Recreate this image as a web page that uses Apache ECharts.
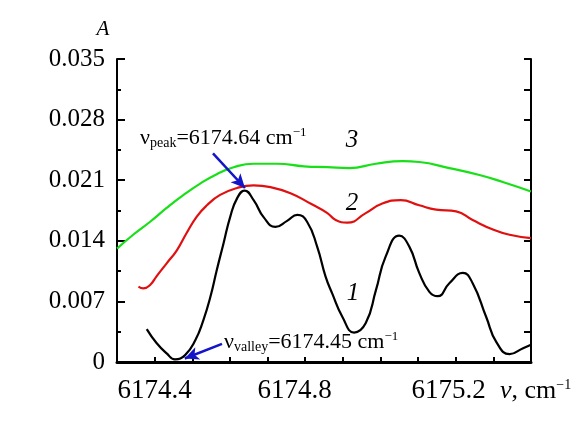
<!DOCTYPE html>
<html>
<head>
<meta charset="utf-8">
<script src="https://cdn.jsdelivr.net/npm/echarts@6/dist/echarts.min.js"></script>
<style>
  html, body { margin: 0; padding: 0; background: #fff; }
  #chart { width: 578px; height: 421px; }
</style>
</head>
<body>
<div id="chart"></div>
<script>
// curve 1 (black)
const nu1 = [6174.379, 6174.405, 6174.432, 6174.454, 6174.481, 6174.508, 6174.530, 6174.548, 6174.565,
  6174.583, 6174.601, 6174.619, 6174.639, 6174.663, 6174.690, 6174.721, 6174.752, 6174.779, 6174.805,
  6174.832, 6174.854, 6174.872, 6174.899, 6174.930, 6174.961, 6174.988, 6175.014, 6175.050, 6175.077,
  6175.103, 6175.130, 6175.152, 6175.183, 6175.219, 6175.245, 6175.281, 6175.308, 6175.343, 6175.379, 6175.400]
const a1 = [0.0038, 0.0022, 0.0010, 0.0003, 0.0008, 0.0025, 0.0049, 0.0075, 0.0106,
  0.0137, 0.0168, 0.0189, 0.0198, 0.0187, 0.0167, 0.0156, 0.0163, 0.0170, 0.0162,
  0.0133, 0.0099, 0.0079, 0.0052, 0.0034, 0.0045, 0.0083, 0.0122, 0.0146, 0.0133,
  0.0103, 0.0081, 0.0076, 0.0091, 0.0103, 0.0091, 0.0052, 0.0023, 0.0009, 0.0016, 0.0020]

// curve 2 (red)
const nu2 = [6174.357, 6174.370, 6174.388, 6174.405, 6174.432, 6174.459, 6174.485, 6174.512, 6174.539,
  6174.574, 6174.619, 6174.663, 6174.708, 6174.761, 6174.814, 6174.859, 6174.881, 6174.912, 6174.961,
  6175.005, 6175.054, 6175.103, 6175.148, 6175.201, 6175.245, 6175.299, 6175.343, 6175.400]
const a2 = [0.0087, 0.0085, 0.0089, 0.0099, 0.0114, 0.0129, 0.0149, 0.0168, 0.0181,
  0.0193, 0.0201, 0.0204, 0.0202, 0.0195, 0.0183, 0.0172, 0.0164, 0.0161, 0.0172,
  0.0183, 0.0187, 0.0181, 0.0176, 0.0174, 0.0164, 0.0153, 0.0147, 0.0143]

// curve 3 (green)
const nu3 = [6174.300, 6174.343, 6174.388, 6174.432, 6174.477, 6174.521, 6174.565, 6174.610, 6174.663,
  6174.725, 6174.797, 6174.859, 6174.917, 6174.988, 6175.059, 6175.103, 6175.183, 6175.263, 6175.325, 6175.400]
const a3 = [0.0131, 0.0147, 0.0162, 0.0178, 0.0193, 0.0206, 0.0217, 0.0225, 0.0229,
  0.0229, 0.0226, 0.0225, 0.0224, 0.0229, 0.0232, 0.0231, 0.0224, 0.0216, 0.0208, 0.0197]

const xLabels = [6174.4, 6174.8, 6175.2]
const peakArrow = [[6174.555, 0.0241], [6174.640, 0.0201]]
const valleyArrow = [[6174.579, 0.0021], [6174.480, 0.0004]]

const zip = (xs, ys) => xs.map((x, i) => [x, ys[i]])
const serif = 'Liberation Serif'

const chart = echarts.init(document.getElementById('chart'))

const noteRich = {
  n: { fontFamily: serif, fontSize: 22, color: '#000', lineHeight: 24 },
  s: { fontFamily: serif, fontSize: 14, color: '#000', lineHeight: 24, padding: [11, 0, 0, 0] },
  p: { fontFamily: serif, fontSize: 13, color: '#000', lineHeight: 24, padding: [0, 0, 11, 0] }
}

const tickFont = { fontFamily: serif, fontSize: 27, color: '#000' }

const option = {
  animation: false,
  backgroundColor: '#fff',
  grid: { left: 117, right: 47, top: 59, bottom: 59 },
  xAxis: {
    type: 'value', min: 6174.3, max: 6175.4, interval: 0.1,
    axisLine: { show: true, lineStyle: { color: '#000', width: 3 } },
    axisTick: { show: true, inside: true, length: 5, lineStyle: { color: '#000', width: 2 } },
    axisLabel: {
      ...tickFont, margin: 15,
      formatter: v => {
        const i = xLabels.findIndex(l => Math.abs(l - v) < 1e-6)
        return i < 0 ? '' : '{t' + i + '|' + xLabels[i].toFixed(1) + '}'
      },
      rich: {
        t0: { ...tickFont },
        t1: { ...tickFont, padding: [0, 21, 0, 0] },
        t2: { ...tickFont, padding: [0, 14, 0, 0] }
      }
    },
    splitLine: { show: false }
  },
  yAxis: [
    {
      type: 'value', min: 0, max: 0.035, interval: 0.007,
      axisLine: { show: true, lineStyle: { color: '#000', width: 2 } },
      axisTick: { show: true, inside: true, length: 8, lineStyle: { color: '#000', width: 2 } },
      minorTick: { show: true, splitNumber: 2, length: 4, lineStyle: { color: '#000', width: 2 } },
      axisLabel: {
        fontFamily: serif, fontSize: 25, color: '#000', margin: 12, padding: [4, 0, 0, 0],
        formatter: v => (v < 1e-9 ? '0' : v.toFixed(3))
      },
      splitLine: { show: false }
    },
    {
      type: 'value', position: 'right', min: 0, max: 0.035, interval: 0.0035,
      axisLine: { show: true, lineStyle: { color: '#000', width: 2 } },
      axisTick: { show: true, inside: true, length: 7, lineStyle: { color: '#000', width: 2 } },
      axisLabel: { show: false },
      splitLine: { show: false }
    }
  ],
  series: [
    {
      type: 'line', data: zip(nu3, a3), smooth: 0.5, showSymbol: false,
      lineStyle: { color: '#18e018', width: 2.2 }
    },
    {
      type: 'line', data: zip(nu2, a2), smooth: 0.5, showSymbol: false,
      lineStyle: { color: '#e01010', width: 2.2 }
    },
    {
      type: 'line', data: zip(nu1, a1), smooth: 0.5, showSymbol: false,
      lineStyle: { color: '#000', width: 2.2 },
      markLine: {
        silent: true,
        symbol: ['none', 'arrow'],
        symbolSize: [10, 14],
        label: { show: false },
        lineStyle: { color: '#1414c8', width: 2.5, type: 'solid' },
        data: [
          [{ coord: peakArrow[0] }, { coord: peakArrow[1] }],
          [{ coord: valleyArrow[0] }, { coord: valleyArrow[1] }]
        ]
      }
    }
  ],
  graphic: [
    { type: 'text', x: 103, y: 29, style: { text: 'A', font: 'italic 21px ' + serif, fill: '#000', align: 'center', verticalAlign: 'middle' } },
    { type: 'text', x: 352, y: 140, style: { text: '3', font: 'italic 25px ' + serif, fill: '#000', align: 'center', verticalAlign: 'middle' } },
    { type: 'text', x: 352, y: 203, style: { text: '2', font: 'italic 25px ' + serif, fill: '#000', align: 'center', verticalAlign: 'middle' } },
    { type: 'text', x: 353, y: 293, style: { text: '1', font: 'italic 25px ' + serif, fill: '#000', align: 'center', verticalAlign: 'middle' } },
    {
      type: 'text', x: 140, y: 138,
      style: { text: '{n|ν}{s|peak}{n|=6174.64 cm}{p|−1}', align: 'left', verticalAlign: 'middle', rich: noteRich }
    },
    {
      type: 'text', x: 224, y: 342,
      style: { text: '{n|ν}{s|valley}{n|=6174.45 cm}{p|−1}', align: 'left', verticalAlign: 'middle', rich: noteRich }
    },
    {
      type: 'text', x: 500, y: 391,
      style: {
        text: '{i|ν}{n|, cm}{p|−1}',
        align: 'left', verticalAlign: 'middle',
        rich: {
          i: { fontFamily: serif, fontStyle: 'italic', fontSize: 26, color: '#000', lineHeight: 28 },
          n: { fontFamily: serif, fontSize: 26, color: '#000', lineHeight: 28 },
          p: { fontFamily: serif, fontSize: 14, color: '#000', lineHeight: 28, padding: [0, 0, 12, 0] }
        }
      }
    }
  ]
}

chart.setOption(option)
</script>
</body>
</html>
